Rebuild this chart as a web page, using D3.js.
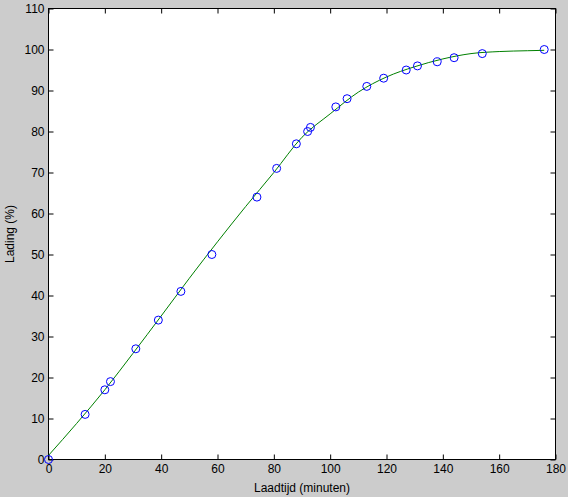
<!DOCTYPE html>
<html>
<head>
<meta charset="utf-8">
<script src="https://cdn.jsdelivr.net/npm/d3@7"></script>
<style>
html,body{margin:0;padding:0;background:#cccccc;}
svg{display:block;}
text{font-family:"Liberation Sans",Arial,sans-serif;}
</style>
</head>
<body>
<svg id="chart" width="568" height="497"></svg>
<script>
// Measured data points (Laadtijd in minutes, Lading in %)
const timeMin = [0, 13, 20, 22, 31, 39, 47, 58, 74, 81, 88, 92, 93, 102, 106, 113, 119, 127, 131, 138, 144, 154, 176];
const chargePct = [0, 11, 17, 19, 27, 34, 41, 50, 64, 71, 77, 80, 81, 86, 88, 91, 93, 95, 96, 97, 98, 99, 100];

// Fitted curve
const fitTime = [0, 10, 20, 30, 40, 50, 60, 70, 80, 90, 100, 110, 120, 130, 140, 150, 160, 170, 176];
const fitPct = [1.0, 8.8, 17.0, 25.9, 35.0, 44.2, 53.1, 61.7, 70.0, 78.6, 84.3, 89.6, 93.3, 95.8, 97.7, 99.0, 99.5, 99.7, 99.8];

const xTicks = [0, 20, 40, 60, 80, 100, 120, 140, 160, 180];
const yTicks = [0, 10, 20, 30, 40, 50, 60, 70, 80, 90, 100, 110];

const xLabel = "Laadtijd (minuten)";
const yLabel = "Lading (%)";

const svg = d3.select("#chart");
const L = 48.5, R = 555.5, T = 8.5, B = 459.5;

const x = d3.scaleLinear().domain([0, 180]).range([L, R]);
const y = d3.scaleLinear().domain([0, 110]).range([B, T]);

svg.append("rect").attr("x", L).attr("y", T).attr("width", R - L).attr("height", B - T)
  .attr("fill", "#ffffff");

function styleAxis(g) {
  g.select(".domain").remove();
  g.selectAll("line").attr("stroke", "#000").attr("stroke-width", 1);
  g.selectAll("text").attr("fill", "#000").style("font-size", "12px")
    .style("font-family", "'Liberation Sans', Arial, sans-serif");
}

svg.append("g").attr("transform", `translate(0,${B})`)
  .call(d3.axisBottom(x).tickValues(xTicks).tickSizeInner(-5).tickSizeOuter(0).tickPadding(5))
  .call(styleAxis);
svg.append("g").attr("transform", `translate(0,${T})`)
  .call(d3.axisTop(x).tickValues(xTicks).tickSizeInner(-5).tickSizeOuter(0).tickFormat(""))
  .call(styleAxis);
svg.append("g").attr("transform", `translate(${L},0)`)
  .call(d3.axisLeft(y).tickValues(yTicks).tickSizeInner(-5).tickSizeOuter(0).tickPadding(4))
  .call(styleAxis);
svg.append("g").attr("transform", `translate(${R},0)`)
  .call(d3.axisRight(y).tickValues(yTicks).tickSizeInner(-5).tickSizeOuter(0).tickFormat(""))
  .call(styleAxis);

svg.append("rect").attr("x", L).attr("y", T).attr("width", R - L).attr("height", B - T)
  .attr("fill", "none").attr("stroke", "#000").attr("stroke-width", 1);

// Fit line
const fitData = fitTime.map((t, i) => [t, fitPct[i]]);
svg.append("path")
  .datum(fitData)
  .attr("fill", "none")
  .attr("stroke", "#008000")
  .attr("stroke-width", 1)
  .attr("d", d3.line().x(d => x(d[0])).y(d => y(d[1])).curve(d3.curveMonotoneX));

// Data points
svg.append("g").selectAll("circle")
  .data(timeMin.map((t, i) => [t, chargePct[i]]))
  .join("circle")
  .attr("cx", d => x(d[0]))
  .attr("cy", d => y(d[1]))
  .attr("r", 4)
  .attr("fill", "none")
  .attr("stroke", "#0000ff")
  .attr("stroke-width", 1);

// Axis labels
svg.append("text")
  .attr("x", (L + R) / 2).attr("y", 492)
  .attr("text-anchor", "middle")
  .style("font-size", "12px")
  .attr("fill", "#000")
  .text(xLabel);

svg.append("text")
  .attr("transform", `translate(14,${(T + B) / 2}) rotate(-90)`)
  .attr("text-anchor", "middle")
  .style("font-size", "12px")
  .attr("fill", "#000")
  .text(yLabel);
</script>
</body>
</html>
